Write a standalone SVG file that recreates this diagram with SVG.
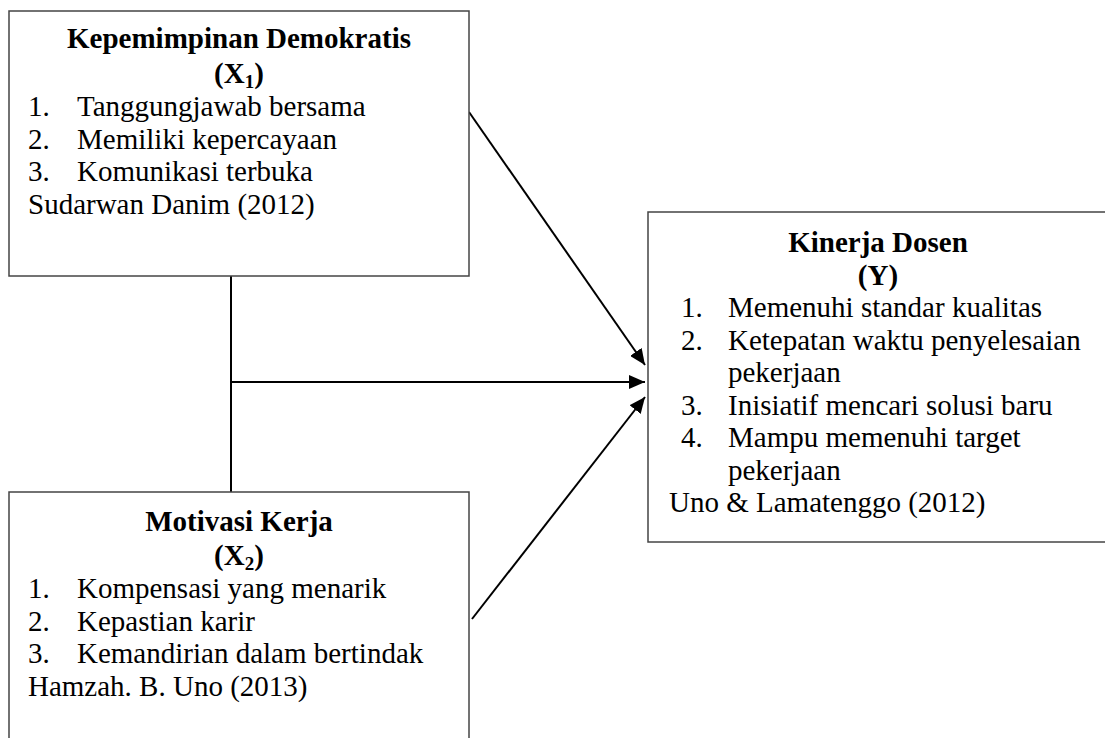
<svg xmlns="http://www.w3.org/2000/svg" width="1105" height="738" viewBox="0 0 1105 738">
<style>
.box{fill:#fff;stroke:#444;stroke-width:1.5}
text{font-family:"Liberation Serif","Times New Roman",serif;font-size:29px;fill:#000}
.t{font-weight:bold;text-anchor:middle}
.sub{font-size:19px}
.c{stroke:#000;stroke-width:2;fill:none}
</style>
<defs>
<marker id="ah" markerUnits="userSpaceOnUse" markerWidth="18" markerHeight="14" refX="16" refY="7" orient="auto">
<path d="M0,0 L16,7 L0,14 Z" fill="#000"/>
</marker>
</defs>
<g id="connectors">
<line class="c" x1="231" y1="276" x2="231" y2="492"/>
<line class="c" x1="231" y1="382" x2="645" y2="382" marker-end="url(#ah)"/>
<line class="c" x1="469" y1="112" x2="645" y2="365" marker-end="url(#ah)"/>
<line class="c" x1="472" y1="619" x2="645" y2="397" marker-end="url(#ah)"/>
</g>
<g id="x1">
<rect class="box" x="9" y="11" width="460" height="265"/>
<text class="t" x="239" y="48">Kepemimpinan Demokratis</text>
<text class="t" x="239" y="83">(X<tspan class="sub" dy="5">1</tspan><tspan dy="-5">)</tspan></text>
<text x="28" y="116">1.</text><text x="77" y="116">Tanggungjawab bersama</text>
<text x="28" y="148.5">2.</text><text x="77" y="148.5">Memiliki kepercayaan</text>
<text x="28" y="181">3.</text><text x="77" y="181">Komunikasi terbuka</text>
<text x="28" y="213.5">Sudarwan Danim (2012)</text>
</g>
<g id="x2">
<rect class="box" x="9" y="492" width="460" height="260"/>
<text class="t" x="239" y="531">Motivasi Kerja</text>
<text class="t" x="239" y="565">(X<tspan class="sub" dy="5">2</tspan><tspan dy="-5">)</tspan></text>
<text x="28" y="598">1.</text><text x="77" y="598">Kompensasi yang menarik</text>
<text x="28" y="630.5">2.</text><text x="77" y="630.5">Kepastian karir</text>
<text x="28" y="663">3.</text><text x="77" y="663">Kemandirian dalam bertindak</text>
<text x="28" y="695.5">Hamzah. B. Uno (2013)</text>
</g>
<g id="y">
<rect class="box" x="648" y="212" width="470" height="330"/>
<text class="t" x="878" y="252">Kinerja Dosen</text>
<text class="t" x="878" y="285">(Y)</text>
<text x="681" y="317">1.</text><text x="728" y="317">Memenuhi standar kualitas</text>
<text x="681" y="349.5">2.</text><text x="728" y="349.5">Ketepatan waktu penyelesaian</text>
<text x="728" y="382">pekerjaan</text>
<text x="681" y="414.5">3.</text><text x="728" y="414.5">Inisiatif mencari solusi baru</text>
<text x="681" y="447">4.</text><text x="728" y="447">Mampu memenuhi target</text>
<text x="728" y="479.5">pekerjaan</text>
<text x="669" y="512">Uno &amp; Lamatenggo (2012)</text>
</g>
</svg>
